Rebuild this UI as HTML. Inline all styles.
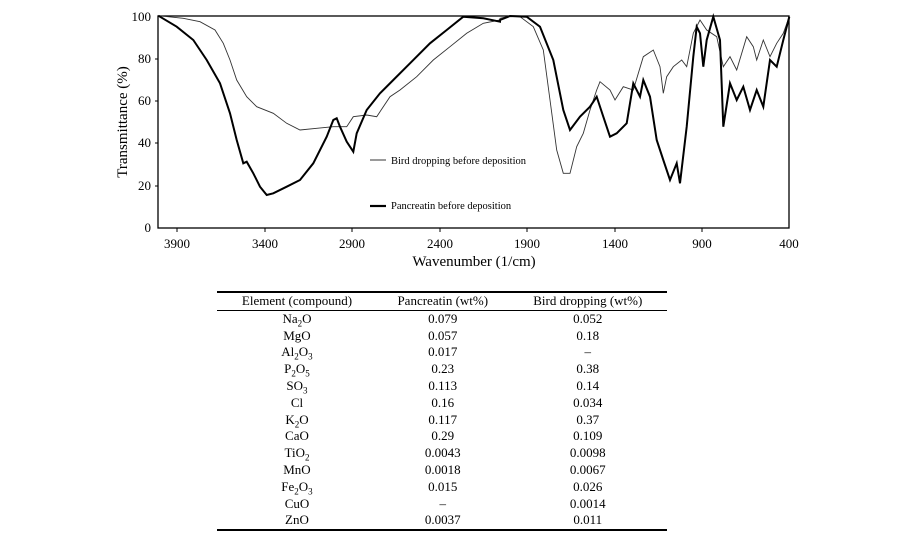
<!DOCTYPE html>
<html><head><meta charset="utf-8"><style>
body{margin:0;background:#fff;width:900px;height:550px;overflow:hidden;font-family:"Liberation Serif",serif}
table{position:absolute;left:217px;top:291px;width:450px;border-collapse:collapse;font-size:13px;line-height:16.8px}
th{font-weight:normal;border-bottom:1.5px solid #000;padding:0}
table{border-top:2px solid #000;border-bottom:2px solid #000}
td{text-align:center;padding:0}
sub{font-size:9px;line-height:0}
</style></head><body>
<svg width="900" height="290" style="position:absolute;left:0;top:0" font-family="Liberation Serif, serif">
<rect x="158" y="16" width="631" height="212" fill="none" stroke="#000" stroke-width="1.3"/>
<g font-size="13" text-anchor="end">
<text x="151" y="232">0</text><text x="151" y="190">20</text><text x="151" y="147">40</text><text x="151" y="105">60</text><text x="151" y="63">80</text><text x="151" y="21">100</text>
</g>
<g stroke="#000"><line x1="158" y1="186" x2="155" y2="186"/><line x1="158" y1="143" x2="155" y2="143"/><line x1="158" y1="101" x2="155" y2="101"/><line x1="158" y1="59" x2="155" y2="59"/></g>
<g font-size="13" text-anchor="middle">
<text x="177" y="248">3900</text><text x="265" y="248">3400</text><text x="352" y="248">2900</text><text x="440" y="248">2400</text><text x="527" y="248">1900</text><text x="615" y="248">1400</text><text x="702" y="248">900</text><text x="789" y="248">400</text>
</g>
<g stroke="#000"><line x1="177" y1="228" x2="177" y2="232"/><line x1="265" y1="228" x2="265" y2="232"/><line x1="352" y1="228" x2="352" y2="232"/><line x1="440" y1="228" x2="440" y2="232"/><line x1="527" y1="228" x2="527" y2="232"/><line x1="615" y1="228" x2="615" y2="232"/><line x1="702" y1="228" x2="702" y2="232"/></g>
<text x="474" y="266" font-size="15" text-anchor="middle">Wavenumber (1/cm)</text>
<text transform="translate(127,122) rotate(-90)" font-size="15" text-anchor="middle">Transmittance (%)</text>
<line x1="370" y1="160" x2="386" y2="160" stroke="#000" stroke-width="0.8"/>
<text x="391" y="164" font-size="10.5">Bird dropping before deposition</text>
<line x1="370" y1="206" x2="386" y2="206" stroke="#000" stroke-width="2.2"/>
<text x="391" y="209" font-size="10.5">Pancreatin before deposition</text>
<path id="bird" fill="none" stroke="#333" stroke-width="0.9"/>
<path id="pan" fill="none" stroke="#000" stroke-width="2"/>
</svg>
<table>
<tr><th>Element (compound)</th><th>Pancreatin (wt%)</th><th>Bird dropping (wt%)</th></tr>
<tr><td>Na<sub>2</sub>O</td><td>0.079</td><td>0.052</td></tr>
<tr><td>MgO</td><td>0.057</td><td>0.18</td></tr>
<tr><td>Al<sub>2</sub>O<sub>3</sub></td><td>0.017</td><td>–</td></tr>
<tr><td>P<sub>2</sub>O<sub>5</sub></td><td>0.23</td><td>0.38</td></tr>
<tr><td>SO<sub>3</sub></td><td>0.113</td><td>0.14</td></tr>
<tr><td>Cl</td><td>0.16</td><td>0.034</td></tr>
<tr><td>K<sub>2</sub>O</td><td>0.117</td><td>0.37</td></tr>
<tr><td>CaO</td><td>0.29</td><td>0.109</td></tr>
<tr><td>TiO<sub>2</sub></td><td>0.0043</td><td>0.0098</td></tr>
<tr><td>MnO</td><td>0.0018</td><td>0.0067</td></tr>
<tr><td>Fe<sub>2</sub>O<sub>3</sub></td><td>0.015</td><td>0.026</td></tr>
<tr><td>CuO</td><td>–</td><td>0.0014</td></tr>
<tr><td>ZnO</td><td>0.0037</td><td>0.011</td></tr>
</table>
<script>
function mk(a,b){var p=[];a.forEach(function(q){p.push([100+q[0]/3,q[1]/3])});b.forEach(function(q){p.push([500+q[0]/3,q[1]/3])});
return "M"+p.map(function(q){return q[0].toFixed(1)+","+q[1].toFixed(1)}).join(" L");}
var b1=[[175,47],[250,55],[300,65],[345,90],[370,130],[390,180],[410,240],[440,290],[470,320],[520,340],[560,370],[600,390],[650,385],[700,380],[740,380],[760,350],[800,345],[830,350],[870,290],[900,270],[950,230],[1000,180],[1050,140],[1100,100],[1150,70],[1200,60]];
var b2=[[0,55],[30,48],[60,50],[100,80],[130,150],[150,300],[170,450],[190,520],[210,520],[230,440],[250,400],[270,330],[290,270],[300,245],[330,270],[345,300],[370,260],[400,270],[430,170],[460,150],[480,200],[490,280],[500,230],[520,200],[545,180],[560,200],[580,100],[600,60],[620,90],[650,110],[670,200],[690,170],[710,210],[740,110],[760,140],[770,180],[790,120],[810,170],[830,130],[850,100],[868,50]];
var p1=[[175,47],[230,80],[280,120],[320,180],[360,250],[390,340],[410,420],[430,490],[440,485],[460,520],[480,560],[500,585],[520,580],[560,560],[600,540],[640,490],[680,410],[700,360],[710,355],[720,380],[740,425],[760,455],[770,400],[800,330],[840,280],[880,240],[930,190],[990,130],[1040,90],[1090,50],[1150,55],[1200,65]];
var p2=[[0,60],[30,48],[80,50],[120,80],[160,180],[190,330],[210,390],[240,350],[270,320],[290,290],[310,350],[330,410],[350,400],[380,370],[400,250],[420,290],[430,240],[450,290],[470,420],[490,480],[510,540],[530,490],[540,550],[560,380],[580,170],[590,80],[600,100],[610,200],[620,120],[640,50],[660,120],[670,380],[690,250],[710,300],[730,260],[750,330],[770,270],[790,320],[810,180],[830,200],[850,120],[868,50]];
document.getElementById("bird").setAttribute("d",mk(b1,b2));
document.getElementById("pan").setAttribute("d",mk(p1,p2));
</script>
</body></html>
